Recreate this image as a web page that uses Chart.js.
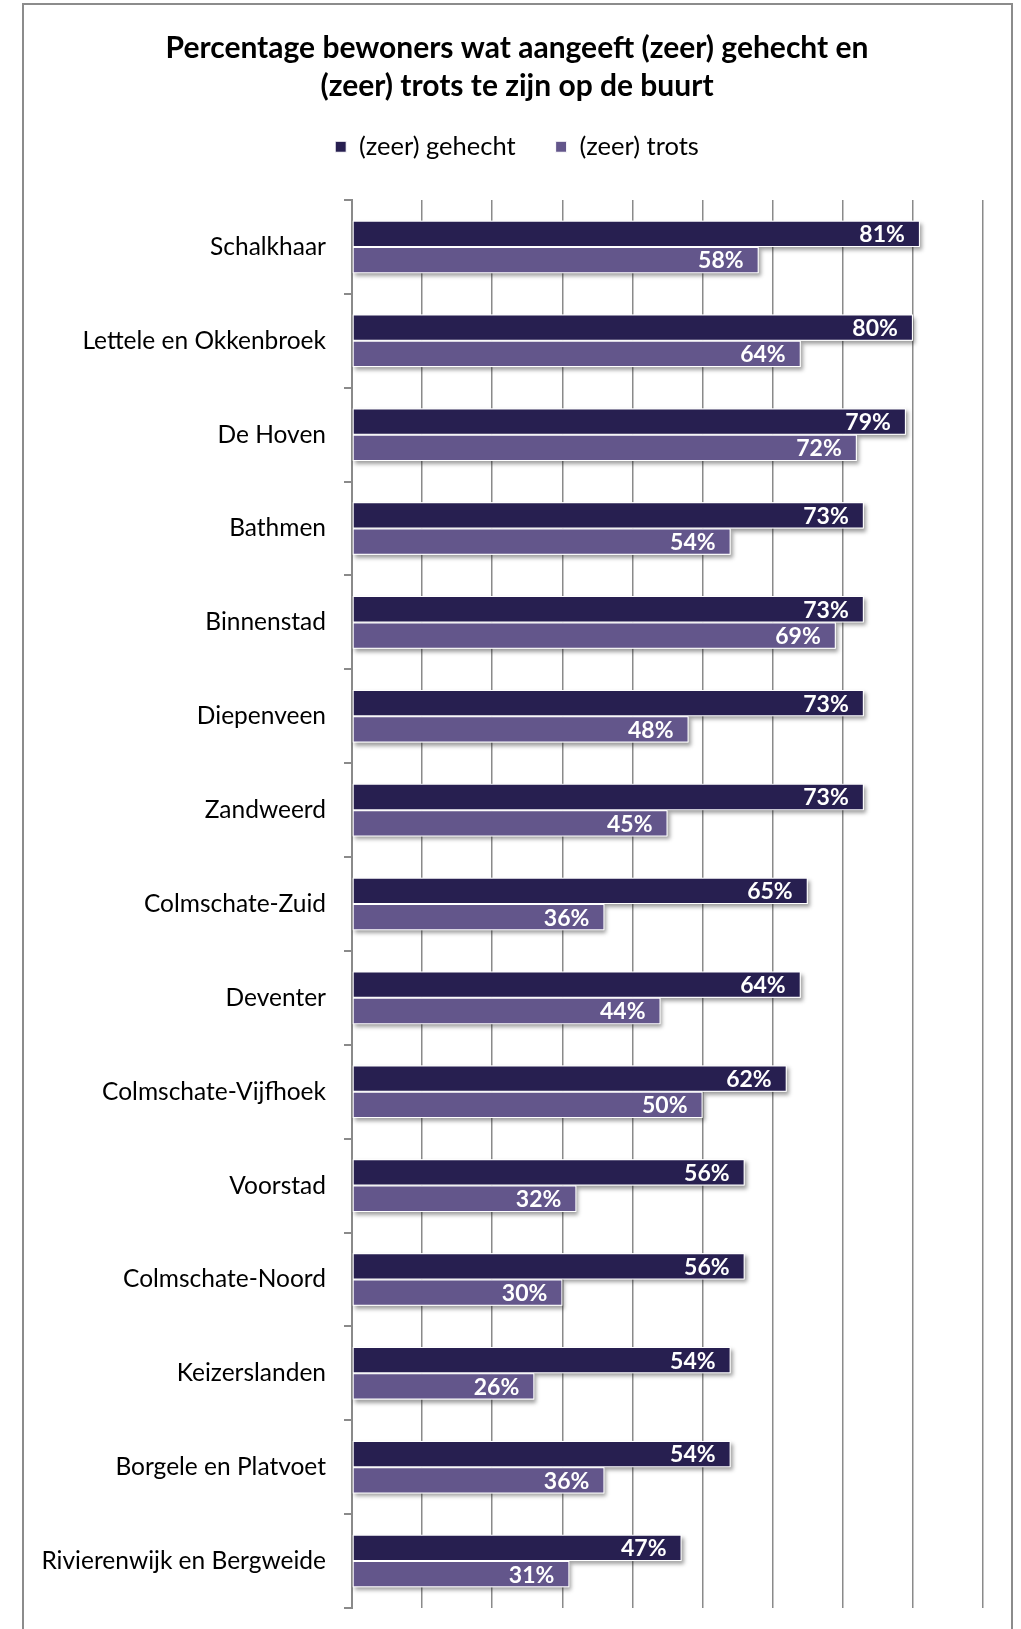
<!DOCTYPE html>
<html>
<head>
<meta charset="utf-8">
<script src="https://cdn.jsdelivr.net/npm/chart.js@4"></script>
<style>
  html, body { margin: 0; padding: 0; background: #ffffff; }
  #wrap { width: 1021px; height: 1629px; position: relative; }
  canvas { display: block; }
</style>
</head>
<body>
<div id="wrap"><canvas id="c" width="1021" height="1629"></canvas></div>
<script>
const categories = [
  "Schalkhaar", "Lettele en Okkenbroek", "De Hoven", "Bathmen", "Binnenstad",
  "Diepenveen", "Zandweerd", "Colmschate-Zuid", "Deventer", "Colmschate-Vijfhoek",
  "Voorstad", "Colmschate-Noord", "Keizerslanden", "Borgele en Platvoet",
  "Rivierenwijk en Bergweide"
];
const gehecht = [81, 80, 79, 73, 73, 73, 73, 65, 64, 62, 56, 56, 54, 54, 47];
const trots   = [58, 64, 72, 54, 69, 48, 45, 36, 44, 50, 32, 30, 26, 36, 31];
const seriesNames = ["(zeer) gehecht", "(zeer) trots"];
const titleLines = ["Percentage bewoners wat aangeeft (zeer) gehecht en", "(zeer) trots te zijn op de buurt"];
const xMin = 0, xMax = 90, xStep = 10;

const FONT = "Lato, 'Open Sans', sans-serif";
const LABEL_SIZE = 24.5;

const framePlugin = {
  id: 'frame',
  beforeDraw(chart) {
    const ctx = chart.ctx;
    ctx.save();
    ctx.fillStyle = '#ffffff';
    ctx.fillRect(0, 0, chart.width, chart.height);
    ctx.strokeStyle = '#8c8c8c';
    ctx.lineWidth = 2;
    ctx.strokeRect(23, 4, 989, 1700);
    ctx.restore();
  }
};

const shadowPlugin = {
  id: 'barShadow',
  beforeDatasetsDraw(chart) {
    const ctx = chart.ctx;
    ctx.save();
    ctx.shadowColor = 'rgba(0,0,0,0.38)';
    ctx.shadowBlur = 4;
    ctx.shadowOffsetX = 2;
    ctx.shadowOffsetY = 3;
    ctx.fillStyle = '#ffffff';
    chart.data.datasets.forEach((ds, i) => {
      chart.getDatasetMeta(i).data.forEach(bar => {
        const p = bar.getProps(['x', 'y', 'base', 'height'], true);
        ctx.fillRect(p.base, p.y - p.height / 2, p.x - p.base, p.height);
      });
    });
    ctx.restore();
  }
};

const labelPlugin = {
  id: 'valueLabels',
  afterDatasetsDraw(chart) {
    const ctx = chart.ctx;
    ctx.save();
    ctx.font = "bold 23px " + FONT;
    ctx.fillStyle = '#ffffff';
    ctx.textAlign = 'right';
    ctx.textBaseline = 'middle';
    chart.data.datasets.forEach((ds, i) => {
      chart.getDatasetMeta(i).data.forEach((bar, j) => {
        ctx.fillText(ds.data[j] + '%', bar.x - 15, bar.y + 1);
      });
    });
    ctx.restore();
  }
};

new Chart(document.getElementById('c'), {
  type: 'bar',
  data: {
    labels: categories,
    datasets: [
      { label: seriesNames[0], data: gehecht, backgroundColor: '#271f50', borderColor: '#ffffff', borderWidth: 1, borderSkipped: false },
      { label: seriesNames[1], data: trots, backgroundColor: '#63568b', borderColor: '#ffffff', borderWidth: 1, borderSkipped: false }
    ]
  },
  options: {
    indexAxis: 'y',
    responsive: false,
    animation: false,
    devicePixelRatio: 1,
    categoryPercentage: 0.56,
    barPercentage: 1.0,
    layout: { padding: { left: 30, right: 17, top: 0, bottom: 21 } },
    plugins: {
      title: {
        display: true,
        text: titleLines,
        color: '#000000',
        font: { family: FONT, size: 30, weight: 'bold', lineHeight: 38 / 30 },
        padding: { top: 29, bottom: -11 }
      },
      legend: {
        display: true,
        position: 'top',
        labels: {
          color: '#000000',
          font: { family: FONT, size: 25.5 },
          boxWidth: 11,
          boxHeight: 11,
          padding: 40
        }
      },
      tooltip: { enabled: false }
    },
    scales: {
      x: {
        position: 'top',
        min: xMin,
        max: xMax,
        ticks: { display: false, stepSize: xStep },
        grid: { color: '#8a8a8a', lineWidth: 1.5, drawTicks: false },
        border: { display: false },
        afterFit(scale) { scale.height = 30.5; }
      },
      y: {
        position: 'left',
        ticks: { color: '#000000', font: { family: FONT, size: LABEL_SIZE, lineHeight: 1.2 }, padding: 18, autoSkip: false },
        grid: { offset: true, drawOnChartArea: false, drawTicks: true, tickLength: 8, color: '#8a8a8a', lineWidth: 2 },
        border: { display: true, color: '#8a8a8a', width: 2 },
        afterFit(scale) {
          scale.width = 322;
          scale.paddingTop = 0;
          scale.paddingBottom = 0;
        }
      },
      yRight: {
        type: 'category',
        position: 'right',
        display: true,
        ticks: { display: false },
        grid: { display: false, drawTicks: false },
        border: { display: false },
        afterFit(scale) { scale.width = 21; }
      }
    }
  },
  plugins: [framePlugin, shadowPlugin, labelPlugin]
});
</script>
</body>
</html>
